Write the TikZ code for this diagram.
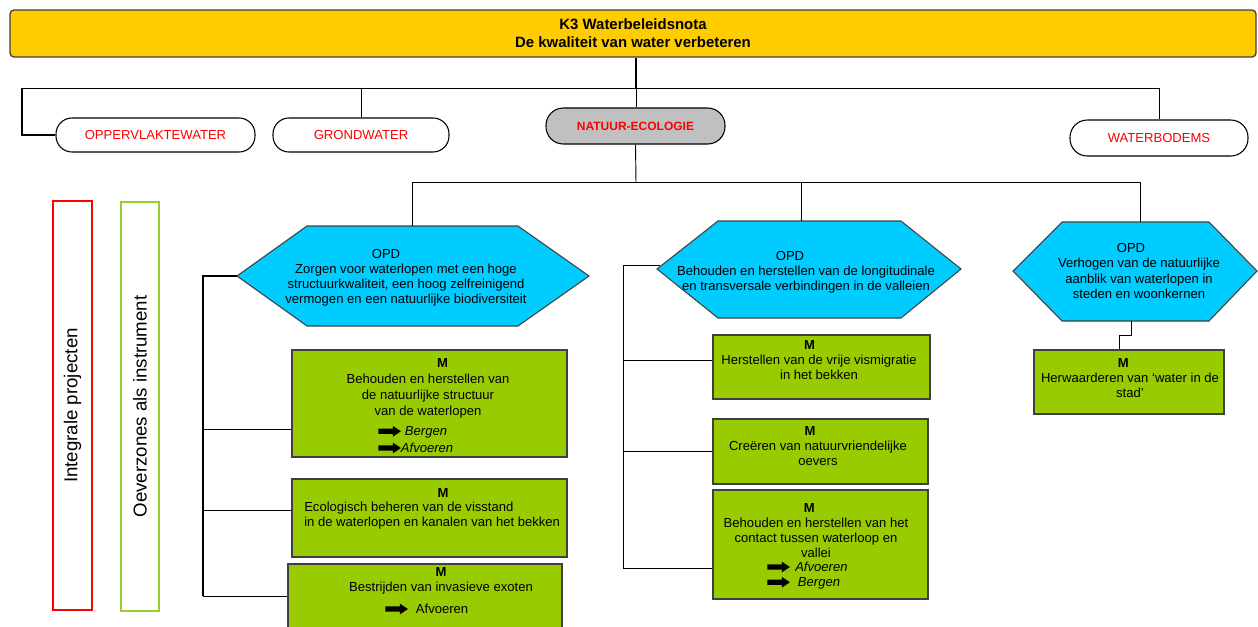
\documentclass[tikz,border=0pt]{standalone}
\usepackage{fontspec}
\setmainfont{Liberation Sans}
\usetikzlibrary{fit,calc}

\definecolor{barfill}{HTML}{FFCC00}
\definecolor{hexfill}{HTML}{00CCFF}
\definecolor{mfill}{HTML}{99CC00}
\definecolor{labred}{HTML}{FF0000}
\definecolor{catgray}{HTML}{C0C0C0}
\definecolor{oevgreen}{HTML}{99CC33}
\definecolor{edgegray}{HTML}{404040}

% solid black block arrow used in front of the action words
\newcommand{\fatarrow}{\tikz[baseline=-0.6ex]\fill[black] (0,-2pt) -- (11pt,-2pt) -- (11pt,-4pt) -- (17pt,0pt) -- (11pt,4pt) -- (11pt,2pt) -- (0,2pt) -- cycle;}
% invisible spacer to nudge a centred word sideways
\newcommand{\nudge}[1]{\rule{#1}{0pt}}

\tikzset{
  link/.style={line width=0.7pt, black},
  thicklink/.style={line width=1.2pt, black},
  topbar/.style={draw=edgegray, line width=1pt, fill=barfill, rounded corners=3pt, inner sep=0pt,
    minimum width=934.5pt, minimum height=35.25pt,
    font=\bfseries\fontsize{11.2}{13.5}\selectfont, align=center},
  theme/.style={rectangle, rounded corners=12pt, draw=black, line width=0.8pt, fill=white, inner sep=0pt,
    minimum height=25.5pt, text=labred, font=\fontsize{9.8}{11}\selectfont},
  themesel/.style={theme, fill=catgray, minimum height=27pt, rounded corners=13pt,
    font=\bfseries\fontsize{9}{11}\selectfont},
  hexpath/.style={draw=edgegray, line width=0.8pt, fill=hexfill},
  mbox/.style={draw=edgegray, line width=1.2pt, fill=mfill, inner sep=0pt},
  txt/.style={inner sep=0pt, align=center, font=\fontsize{9.8}{11.3}\selectfont},
  txtwide/.style={txt, font=\fontsize{9.8}{12}\selectfont},
  sidebox/.style={line width=1pt, inner sep=0pt},
  sidetxt/.style={inner sep=0pt, rotate=90, font=\fontsize{14}{16}\selectfont},
}

\begin{document}
\begin{tikzpicture}[x=0.75pt,y=-0.75pt]
\clip (0,0) rectangle (1258,626);

% ---- heading bar ----
\node[topbar] (top) at (633,33.5) {K3 Waterbeleidsnota\\De kwaliteit van water verbeteren};

% ---- themes ----
\node[theme, minimum width=149.25pt] (opp) at (155.5,135) {OPPERVLAKTEWATER};
\node[theme, minimum width=132pt] (grond) at (361,135) {GRONDWATER};
\node[themesel, minimum width=134.25pt] (nat) at (635.5,126) {NATUUR-ECOLOGIE};
\node[theme, minimum width=133.5pt, minimum height=27pt, rounded corners=13pt] (bod) at (1159,138) {WATERBODEMS};

\coordinate (j0) at (636,88);
\coordinate (lft) at (22,88);
\draw[thicklink] (j0 |- top.south) -- (j0);
\draw[link] (j0) -- (lft);
\draw[thicklink] (lft) |- (opp.west);
\draw[link] (grond.north |- j0) -- (grond.north);
\draw[link] (j0) -- (j0 |- nat.north);
\draw[link] (j0) -| (bod.north);

% ---- objectives (hexagons) ----
\coordinate (h1w) at (237,276);
\coordinate (h1t) at (412,226);
\draw[hexpath] (h1w) -- (307,226) -- (518,226) -- (589,276) -- (518,326) -- (307,326) -- cycle;
\node[txt] (h1txt) at (406,278) {OPD\nudge{30pt}\\Zorgen voor waterlopen met een hoge\\structuurkwaliteit, een hoog zelfreinigend\\vermogen en een natuurlijke biodiversiteit};

\coordinate (h2w) at (660,265);
\coordinate (h2t) at (801,221);
\draw[hexpath] (657,269) -- (718,221) -- (901,221) -- (961,269) -- (901,318) -- (718,318) -- cycle;
\node[txt] (h2txt) at (806,272) {OPD\nudge{24pt}\\Behouden en herstellen van de longitudinale\\en transversale verbindingen in de valleien};

\coordinate (h3t) at (1140,222);
\coordinate (h3s) at (1131,321);
\draw[hexpath] (1013,271) -- (1062,222) -- (1209,222) -- (1257,271) -- (1209,321) -- (1062,321) -- cycle;
\node[txt] (h3txt) at (1139,271) {OPD\nudge{12pt}\\Verhogen van de natuurlijke\\aanblik van waterlopen in\\steden en woonkernen};

\coordinate (j1) at (636,182);
\draw[link] (nat.south) -- (j1);
\draw[link] (j1) -| (h1t);
\draw[link] (j1) -| (h3t);
\draw[link] (h2t |- j1) -- (h2t);

% ---- measures ----
\node[mbox, fit={(292,350) (567,457)}] (m1) {};
\node[txtwide, anchor=north] at (428,358) {\nudge{22pt}\textbf{M}\\Behouden en herstellen van\\de natuurlijke structuur\\van de waterlopen};
\node[txt, anchor=west] at (378,432) {\fatarrow\hspace{3pt}\textit{Bergen}};
\node[txt, anchor=west] at (378,448) {\fatarrow\textit{Afvoeren}};

\node[mbox, fit={(292,479) (567,557)}] (m2) {};
\node[txt, anchor=north] at (443,488) {\textbf{M}};
\node[txt, anchor=north west, align=left] at (304,502) {Ecologisch beheren van de visstand\\in de waterlopen en kanalen van het bekken};

\node[mbox, fit={(288,564) (562,640)}] (m3) {};
\node[txt, anchor=north] at (441,567) {\textbf{M}\\Bestrijden van invasieve exoten};
\node[txt, anchor=west] at (385,609) {\fatarrow\hspace{6pt}Afvoeren};

\node[mbox, fit={(713,335) (930,399)}] (m4) {};
\node[txt, anchor=north] at (819,340) {\textbf{M}\nudge{14pt}\\Herstellen van de vrije vismigratie\\in het bekken};

\node[mbox, fit={(713,419) (928,484)}] (m5) {};
\node[txt, anchor=north] at (818,426) {\textbf{M}\nudge{12pt}\\Creëren van natuurvriendelijke\\oevers};

\node[mbox, fit={(713,490) (928,599)}] (m6) {};
\node[txt, anchor=north] at (816,503) {\textbf{M}\nudge{10pt}\\Behouden en herstellen van het\\contact tussen waterloop en\\vallei};
\node[txt, anchor=west] at (767,567) {\fatarrow\hspace{4pt}\textit{Afvoeren}};
\node[txt, anchor=west] at (767,583) {\fatarrow\hspace{6pt}\textit{Bergen}};

\node[mbox, fit={(1034,350) (1224,414)}] (m7) {};
\node[txt, anchor=north] at (1130,358) {\textbf{M}\nudge{10pt}\\Herwaarderen van ‘water in de\\stad’};

% ---- brackets from objectives to measures ----
\coordinate (b1) at (203,276);
\coordinate (b1e) at (203,596);
\draw[thicklink] (h1w) -- (b1) -- (b1e);
\draw[link] (b1e) -- (m3.west |- b1e);
\draw[link] (b1 |- 0,429) -- (m1.west |- 0,429);
\draw[link] (b1 |- 0,510) -- (m2.west |- 0,510);

\coordinate (b2) at (623,265);
\coordinate (b2e) at (623,568);
\draw[link] (h2w) -- (b2) -- (b2e) -- (m6.west |- b2e);
\draw[link] (b2 |- 0,360) -- (m4.west |- 0,360);
\draw[link] (b2 |- m5.west) -- (m5.west);

\draw[link] (h3s) -- ++(0,14) -| ($(m7.north)+(-10,0)$);

% ---- cross-cutting instruments ----
\node[sidebox, draw=red, fit={(53,201) (92,610)}] (ip) {};
\node[sidetxt] at (ip.center) {Integrale projecten};
\node[sidebox, draw=oevgreen, fit={(121,202) (159,611)}] (oz) {};
\node[sidetxt] at (oz.center) {Oeverzones als instrument};

\end{tikzpicture}
\end{document}
